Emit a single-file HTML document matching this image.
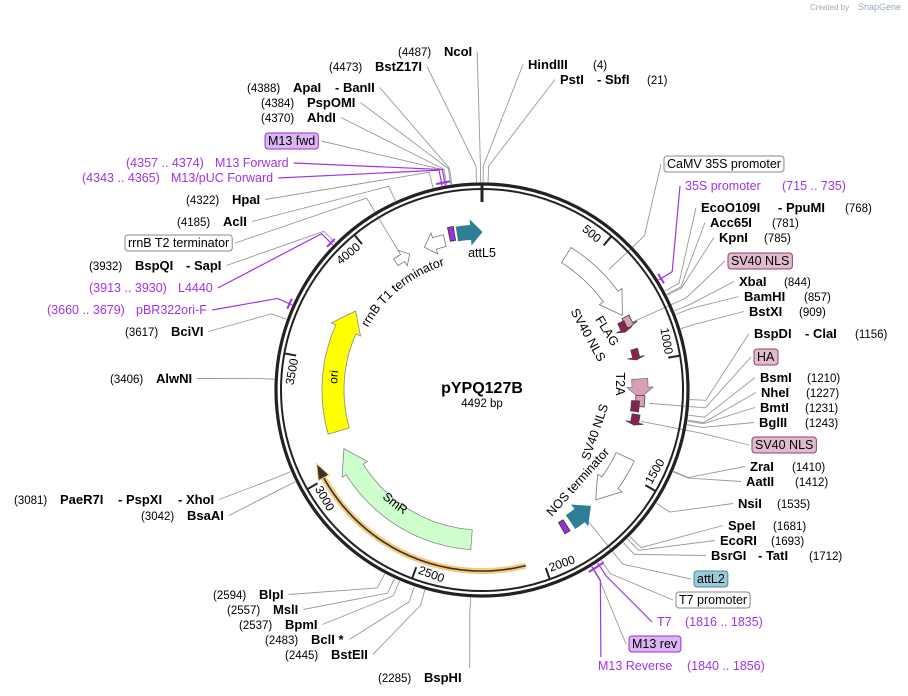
<!DOCTYPE html>
<html><head><meta charset="utf-8"><style>
html,body{margin:0;padding:0;background:#fff;width:908px;height:696px;overflow:hidden}
svg{font-family:"Liberation Sans","DejaVu Sans",sans-serif}
.n{font-size:11.5px;fill:#000}
.b{font-size:13px;font-weight:bold;fill:#000}
.p{font-size:12.5px;fill:#a033e8}
.f{font-size:12.5px;fill:#000}
.t{font-size:12px;fill:#000}
</style></head><body>
<svg id="s" width="908" height="696" viewBox="0 0 908 696" xmlns="http://www.w3.org/2000/svg">
<text x="810" y="10" style="font-size:8px;fill:#aaa">Created by</text>
<text x="858" y="10" style="font-size:9px;fill:#9ab">SnapGene</text>
<g id="lines"></g>
<g id="feat"></g>
<circle cx="482" cy="390" r="206" fill="none" stroke="#222" stroke-width="3.2"/>
<circle cx="482" cy="390" r="201" fill="none" stroke="#222" stroke-width="2"/>
<g id="ticks"></g>
<g id="labels"></g>
<text x="482" y="393" text-anchor="middle" style="font-size:16px;font-weight:bold">pYPQ127B</text>
<text x="482" y="407" text-anchor="middle" style="font-size:11.5px">4492 bp</text>
<text x="482" y="257" text-anchor="middle" class="f">attL5</text>
<text transform="translate(607,331) rotate(58)" text-anchor="middle" class="f" dy="4">FLAG</text>
<text transform="translate(588,335) rotate(61)" text-anchor="middle" class="f" dy="4">SV40 NLS</text>
<text transform="translate(620,384) rotate(90)" text-anchor="middle" class="f" dy="4">T2A</text>
<text transform="translate(595,432) rotate(-71)" text-anchor="middle" class="f" dy="4">SV40 NLS</text>
<text transform="translate(578,482) rotate(-48)" text-anchor="middle" class="f" dy="4">NOS terminator</text>
</svg>
<script>
const NS="http://www.w3.org/2000/svg",cx=482,cy=390,N=4492;
function P(r,d){const a=d*Math.PI/180;return [cx+r*Math.sin(a),cy-r*Math.cos(a)];}
function el(t,a,par){const e=document.createElementNS(NS,t);for(const k in a)e.setAttribute(k,a[k]);par.appendChild(e);return e;}
const feat=document.getElementById('feat'),ticks=document.getElementById('ticks'),lines=document.getElementById('lines'),labels=document.getElementById('labels');
function arcPts(a1,a2,r){const pts=[];const n=Math.max(2,Math.ceil(Math.abs(a2-a1)));for(let i=0;i<=n;i++)pts.push(P(r,a1+(a2-a1)*i/n));return pts;}
function band(a1,a2,r1,r2,head,fill,stroke){
  const s=Math.sign(a2-a1),hb=a2-s*head,pts=[];
  if(head>0){pts.push(...arcPts(a1,hb,r2));pts.push(P(r2+5,hb));pts.push(P((r1+r2)/2,a2));pts.push(P(r1-5,hb));pts.push(...arcPts(hb,a1,r1));}
  else{pts.push(...arcPts(a1,a2,r2));pts.push(...arcPts(a2,a1,r1));}
  el('polygon',{points:pts.map(p=>p[0].toFixed(1)+','+p[1].toFixed(1)).join(' '),fill:fill,stroke:stroke,'stroke-width':0.8},feat);
}
band(-9,0,151,165,4,'#2e7f96','#2e7f96');
band(-12,-10,152,166,0,'#9b30d9','#333');
band(-14,-22,148,160,4,'#fff','#777');
band(-34,-28,150,158,3,'#fff','#777');
band(32,62,150,168,8,'#fff','#777');
band(63,67,157,165,1,'#d7a0b8','#444');
band(64,68,151,158,1,'#8b2252','#444');
band(75,79,154,161,1,'#8b2252','#444');
band(86,93,150,166,4,'#d7a0b8','#777');
band(92,96,154,163,0,'#d7a0b8','#444');
band(94,98,150,158,0,'#8b2252','#444');
band(99,103,152,160,1,'#8b2252','#444');
band(115,134,148,168,8,'#fff','#777');
band(146,137,151,167,5,'#2e7f96','#2e7f96');
band(148,150,153,166,0,'#9b30d9','#333');
band(184,247,140,160,9,'#ccffcc','#888');
band(254,302,138,160,8,'#ffff00','#888');
(function(){const pts=arcPts(166,243,181);const d='M'+pts.map(p=>p[0].toFixed(1)+' '+p[1].toFixed(1)).join(' L');
el('path',{d:d,fill:'none',stroke:'#f8c97a','stroke-width':6},feat);el('path',{d:d,fill:'none',stroke:'#333','stroke-width':1.6},feat);
const h=[P(187,241),P(181,246),P(175,241)];el('polygon',{points:h.map(p=>p.join(',')).join(' '),fill:'#333',stroke:'#f8c97a','stroke-width':1},feat);})();
function tp(id,a1,a2,r,txt,cls,sweep){const p1=P(r,a1),p2=P(r,a2);
 el('path',{id:id,d:`M${p1[0]} ${p1[1]} A${r} ${r} 0 0 ${sweep} ${p2[0]} ${p2[1]}`,fill:'none'},feat);
 const t=el('text',{class:cls,'text-anchor':'middle'},feat);const q=el('textPath',{href:'#'+id,startOffset:'50%'},t);q.textContent=txt;}
tp('t1',-70,-8,130,'rrnB T1 terminator','f',1);
tp('t2',250,300,145,'ori','t',1);
tp('t3',240,195,147,'SmR','f',0);
for(let p=500;p<N;p+=500){const d=p/N*360;const a=P(189,d),b=P(201,d);el('line',{x1:a[0],y1:a[1],x2:b[0],y2:b[1],stroke:'#222','stroke-width':2},ticks);
 const c=P(191,d-5);let rot=d<90?d:(d<270?d-180:d-360);const t=el('text',{transform:`translate(${c[0]},${c[1]}) rotate(${rot})`,'text-anchor':'middle',dy:4,class:'t'},ticks);t.textContent=p;}
{const a=P(188,0),b=P(206,0);el('line',{x1:a[0],y1:a[1],x2:b[0],y2:b[1],stroke:'#222','stroke-width':3},ticks);}
const L=[
[56,[[398,'(4487)','n'],[444,'NcoI','b']],4487,'L'],
[71,[[329,'(4473)','n'],[375,'BstZ17I','b']],4473,'L'],
[92,[[247,'(4388)','n'],[293,'ApaI','b'],[335,'- BanII','b']],4388,'L'],
[107,[[261,'(4384)','n'],[307,'PspOMI','b']],4384,'L'],
[122,[[261,'(4370)','n'],[307,'AhdI','b']],4370,'L'],
[145,[[268,'M13 fwd','f']],4365,'L',0,0,['#dcb5f3','#9b30d9']],
[167,[[126,'(4357 .. 4374)','p'],[215,'M13 Forward','p']],4365,'L',1],
[182,[[82,'(4343 .. 4365)','p'],[171,'M13/pUC Forward','p']],4354,'L',1],
[204,[[186,'(4322)','n'],[232,'HpaI','b']],4322,'L'],
[226,[[177,'(4185)','n'],[223,'AclI','b']],4185,'L'],
[247,[[128,'rrnB T2 terminator','f']],4105,'L',0,160,['#fff','#888']],
[270,[[89,'(3932)','n'],[135,'BspQI','b'],[186,'- SapI','b']],3932,'L'],
[292,[[89,'(3913 .. 3930)','p'],[178,'L4440','p']],3921,'L',1],
[314,[[47,'(3660 .. 3679)','p'],[136,'pBR322ori-F','p']],3670,'L',1],
[336,[[125,'(3617)','n'],[171,'BciVI','b']],3617,'L'],
[383,[[110,'(3406)','n'],[156,'AlwNI','b']],3406,'L'],
[504,[[14,'(3081)','n'],[60,'PaeR7I','b'],[118,'- PspXI','b'],[178,'- XhoI','b']],3081,'L'],
[520,[[141,'(3042)','n'],[187,'BsaAI','b']],3042,'L'],
[599,[[213,'(2594)','n'],[259,'BlpI','b']],2594,'L'],
[614,[[227,'(2557)','n'],[273,'MslI','b']],2557,'L'],
[629,[[239,'(2537)','n'],[285,'BpmI','b']],2537,'L'],
[644,[[265,'(2483)','n'],[311,'BclI *','b']],2483,'L'],
[659,[[285,'(2445)','n'],[331,'BstEII','b']],2445,'L'],
[682,[[378,'(2285)','n'],[424,'BspHI','b']],2285,'B'],
[69,[[528,'HindIII','b'],[593,'(4)','n']],4,'R'],
[84,[[560,'PstI','b'],[597,'- SbfI','b'],[647,'(21)','n']],21,'R'],
[168,[[667,'CaMV 35S promoter','f']],580,'R',0,175,['#fff','#888']],
[190,[[685,'35S promoter','p'],[782,'(715 .. 735)','p']],725,'R',1],
[212,[[701,'EcoO109I','b'],[778,'- PpuMI','b'],[845,'(768)','n']],768,'R'],
[227,[[710,'Acc65I','b'],[772,'(781)','n']],781,'R'],
[242,[[719,'KpnI','b'],[764,'(785)','n']],785,'R'],
[265,[[731,'SV40 NLS','f']],820,'R',0,165,['#dfbccd','#9c3c6c']],
[286,[[739,'XbaI','b'],[784,'(844)','n']],844,'R'],
[301,[[744,'BamHI','b'],[804,'(857)','n']],857,'R'],
[316,[[749,'BstXI','b'],[799,'(909)','n']],909,'R'],
[338,[[754,'BspDI','b'],[805,'- ClaI','b'],[855,'(1156)','n']],1156,'R'],
[361,[[757,'HA','f']],1180,'R',0,168,['#dfbccd','#9c3c6c']],
[382,[[760,'BsmI','b'],[807,'(1210)','n']],1210,'R'],
[397,[[761,'NheI','b'],[806,'(1227)','n']],1227,'R'],
[412,[[760,'BmtI','b'],[805,'(1231)','n']],1231,'R'],
[427,[[759,'BglII','b'],[805,'(1243)','n']],1243,'R'],
[449,[[755,'SV40 NLS','f']],1262,'R',0,162,['#dfbccd','#9c3c6c']],
[471,[[750,'ZraI','b'],[792,'(1410)','n']],1410,'R'],
[486,[[746,'AatII','b'],[795,'(1412)','n']],1412,'R'],
[508,[[738,'NsiI','b'],[777,'(1535)','n']],1535,'R'],
[530,[[728,'SpeI','b'],[773,'(1681)','n']],1681,'R'],
[545,[[720,'EcoRI','b'],[771,'(1693)','n']],1693,'R'],
[560,[[711,'BsrGI','b'],[758,'- TatI','b'],[809,'(1712)','n']],1712,'R'],
[583,[[697,'attL2','f']],1760,'R',0,165,['#9ccad6','#4a8a99']],
[604,[[679,'T7 promoter','f']],1810,'R',0,0,['#fff','#888']],
[626,[[657,'T7','p'],[685,'(1816 .. 1835)','p']],1825,'R',1],
[648,[[632,'M13 rev','f']],1850,'R',0,0,['#dcb5f3','#9b30d9']],
[670,[[598,'M13 Reverse','p'],[687,'(1840 .. 1856)','p']],1848,'B',1],
];
for(const l of L){
 const g=el('g',{},labels);
 for(const pt of l[1]){const t=el('text',{x:pt[0],y:l[0],class:pt[2]},g);t.textContent=pt[1];}
 const bb=g.getBBox();
 if(l[6]){const r=el('rect',{x:bb.x-3,y:bb.y-1,width:bb.width+6,height:bb.height+2,rx:3,fill:l[6][0],stroke:l[6][1],'stroke-width':1},g);g.insertBefore(r,g.firstChild);}
 const d=l[2]/N*360,col=l[4]?'#a033e8':'#999',rEnd=l[5]||208;
 let sx,sy;
 if(l[3]==='L'){sx=bb.x+bb.width+(l[6]?6:5);sy=bb.y+bb.height/2;}
 else if(l[3]==='R'){sx=bb.x-(l[6]?6:5);sy=bb.y+bb.height/2;}
 else{const a=P(225,d);sx=a[0];sy=bb.y-2;}
 const a=P(224,d),b=P(rEnd,d);
 el('polyline',{points:`${sx},${sy} ${a[0]},${a[1]} ${b[0]},${b[1]}`,fill:'none',stroke:col,'stroke-width':l[4]?1.2:0.9},lines);
 if(l[4]){const c1=P(211,d-1.5),c2=P(211,d+1.5);el('line',{x1:c1[0],y1:c1[1],x2:c2[0],y2:c2[1],stroke:'#a033e8','stroke-width':2},lines);}
}
</script>
</body></html>
